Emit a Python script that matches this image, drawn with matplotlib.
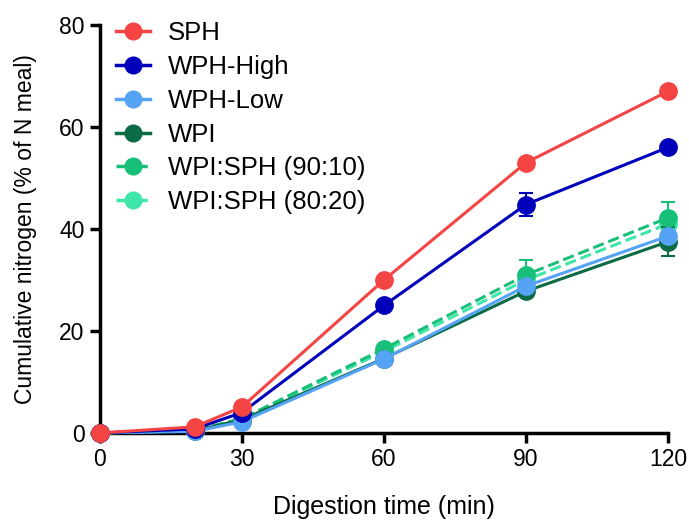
import matplotlib
matplotlib.use("Agg")
import matplotlib.pyplot as plt
from matplotlib.lines import Line2D

plt.rcParams['font.family'] = ['Liberation Sans', 'DejaVu Sans']

time = [0, 20, 30, 60, 90, 120]
series = ["SPH", "WPH-High", "WPH-Low", "WPI", "WPI:SPH (90:10)", "WPI:SPH (80:20)"]
sph = [0, 1.2, 5.1, 30.0, 53.0, 67.0]
wph_high = [0, 0.8, 4.0, 25.0, 44.8, 56.0]
wph_low = [0, 0.3, 2.2, 14.5, 28.8, 38.6]
wpi = [0, 0.4, 2.6, 14.6, 27.8, 37.5]
wpi_sph_90 = [0, 0.5, 2.8, 16.5, 31.0, 42.2]
wpi_sph_80 = [0, 0.5, 2.7, 16.0, 30.0, 41.0]
err_sph = [0, 0, 0, 0, 0, 0]
err_wph_high = [0, 0, 0, 0, 2.2, 0]
err_wph_low = [0, 0, 0, 0, 0, 0]
err_wpi = [0, 0, 0, 0, 0, 2.8]
err_90 = [0, 0, 0, 0, 3.0, 3.0]
err_80 = [0, 0, 0, 0, 0, 0]

colors = ["#f44444", "#0000bb", "#55a3f5", "#0b6b45", "#17bf78", "#3ee6a8"]
styles = ["-", "-", "-", "-", "--", "--"]
data = [sph, wph_high, wph_low, wpi, wpi_sph_90, wpi_sph_80]
errs = [err_sph, err_wph_high, err_wph_low, err_wpi, err_90, err_80]

fig = plt.figure(figsize=(6.89, 5.21), dpi=100)
ax = fig.add_axes([0.145, 0.169, 0.8245, 0.783])

order = [3, 5, 4, 2, 1, 0]
for i in order:
    ax.errorbar(time, data[i], yerr=errs[i], color=colors[i], linestyle=styles[i],
                linewidth=2.2, marker='o', markersize=12.5, capsize=5, elinewidth=1.5,
                capthick=1.5, clip_on=False, zorder=3 + (6 - i) * 0.1)

ax.set_xlim(0, 120)
ax.set_ylim(0, 80)
ax.set_xticks([0, 30, 60, 90, 120])
ax.set_yticks([0, 20, 40, 60, 80])
for s in ['top', 'right']:
    ax.spines[s].set_visible(False)
for s in ['left', 'bottom']:
    ax.spines[s].set_linewidth(2.5)
ax.tick_params(axis='both', width=2.5, length=7, labelsize=16.5, pad=4)
ax.set_xlabel("Digestion time (min)", fontsize=18, labelpad=17)
ax.set_ylabel("Cumulative nitrogen (% of N meal)", fontsize=16.5, labelpad=16)

handles = [Line2D([], [], color=colors[i], linestyle=styles[i], linewidth=2.5,
                  marker='o', markersize=12) for i in range(6)]
leg = ax.legend(handles, series, loc='upper left',
                bbox_to_anchor=(0.168, 0.959), bbox_transform=fig.transFigure,
                frameon=False, fontsize=18.5, borderpad=0, borderaxespad=0,
                handlelength=1.32, labelspacing=0.38, handletextpad=0.7)

fig.savefig("out.png", dpi=100)
